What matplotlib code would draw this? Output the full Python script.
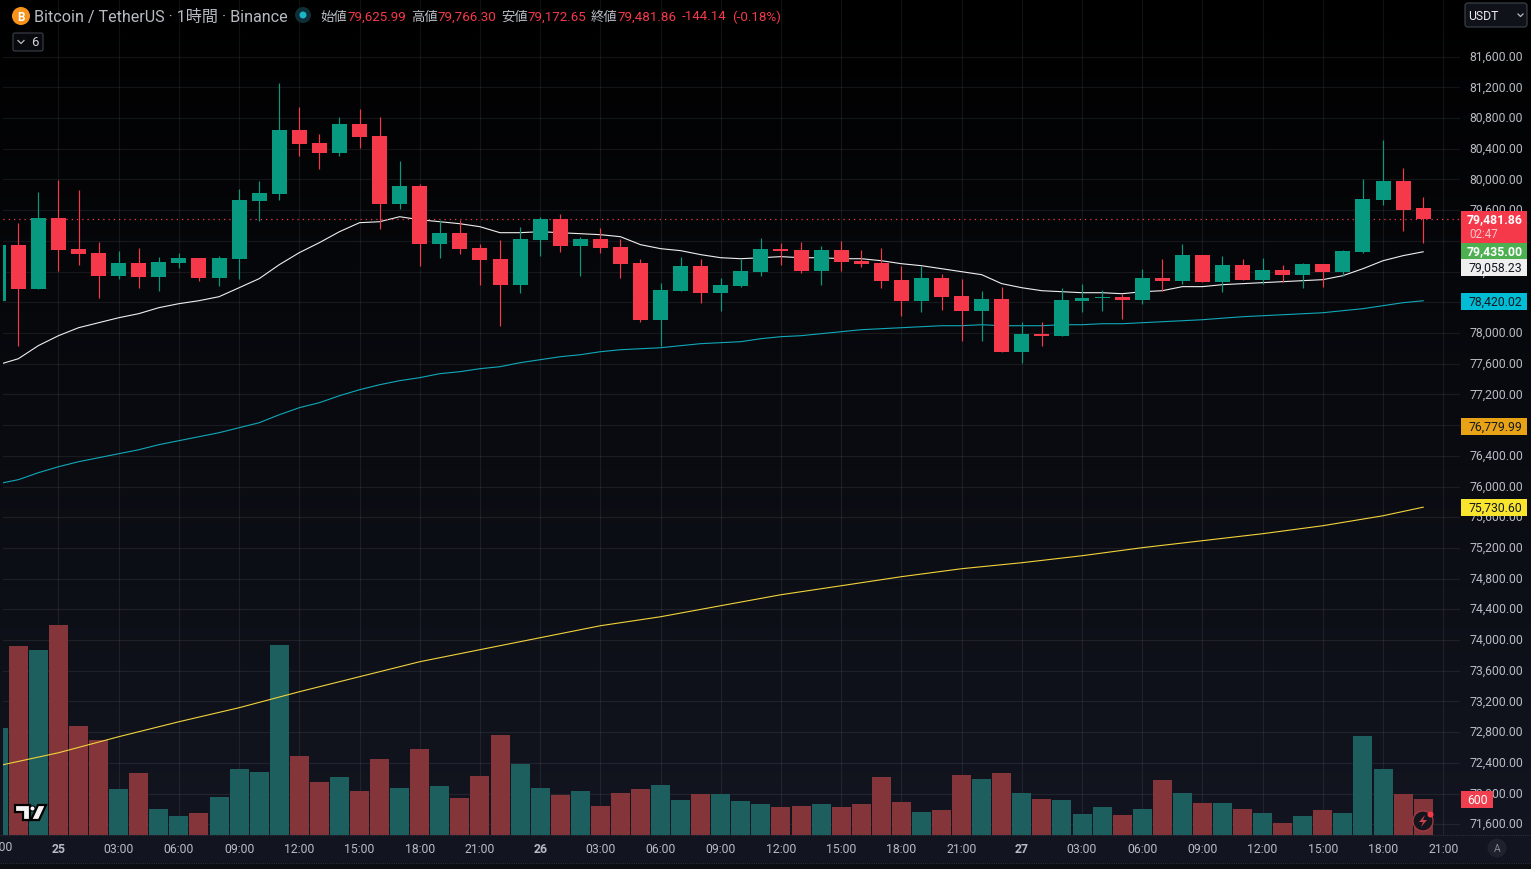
import numpy as np
import matplotlib
matplotlib.use('Agg')
import matplotlib.pyplot as plt
from matplotlib.patches import Circle, FancyBboxPatch, Polygon, Rectangle
from matplotlib.transforms import ScaledTranslation

plt.rcParams['font.family'] = ['Roboto', 'Noto Sans CJK JP', 'DejaVu Sans']

W, H = 1531, 870

# hours relative to 25th 00:00
hours = list(range(-3, 69))

opens = [78421, 79151, 78577, 79502, 79099, 79047, 78747, 78916, 78734, 78916, 78981, 78721,
         78968, 79724, 79815, 80649, 80480, 80349, 80727, 80571, 79685, 79920, 79164, 79307,
         79112, 78968, 78630, 79216, 79489, 79138, 79229, 79125, 78916, 78174, 78551, 78877,
         78525, 78617, 78799, 79099, 79086, 78812, 79086, 78942, 78916, 78695, 78421, 78721,
         78486, 78291, 78447, 77758, 77992, 77966, 78421, 78460, 78473, 78434, 78721, 78682,
         79021, 78669, 78890, 78695, 78825, 78760, 78903, 78799, 79060, 79737, 79985, 79625.99]
highs = [79151, 79437, 79841, 79998, 79867, 79190, 79073, 79112, 78995, 79047, 78981, 79008,
         79881, 79985, 81262, 80949, 80597, 80818, 80923, 80818, 80245, 79946, 79476, 79476,
         79164, 79216, 79385, 79515, 79555, 79255, 79372, 79229, 78968, 78656, 78995, 78968,
         78721, 78968, 79242, 79177, 79190, 79138, 79203, 79086, 79112, 78877, 78877, 78773,
         78708, 78551, 78604, 78148, 78148, 78590, 78643, 78564, 78512, 78838, 78968, 79164,
         79021, 79008, 78968, 78981, 78890, 78916, 78903, 79086, 80011, 80519, 80154, 79766.30]
lows = [78421, 77836, 78577, 78812, 78890, 78460, 78708, 78590, 78551, 78851, 78682, 78617,
        78708, 79463, 79737, 80310, 80141, 80310, 80415, 79359, 79620, 78877, 78981, 79034,
        78630, 78096, 78525, 79008, 79060, 78747, 79047, 78721, 78148, 77836, 78551, 78395,
        78291, 78604, 78747, 78890, 78786, 78630, 78812, 78864, 78590, 78226, 78278, 78304,
        77901, 77901, 77758, 77614, 77836, 77966, 78278, 78291, 78187, 78382, 78551, 78643,
        78669, 78538, 78695, 78643, 78669, 78590, 78604, 78747, 79047, 79672, 79333, 79172.65]
closes = [79151, 78577, 79502, 79086, 79034, 78747, 78916, 78734, 78929, 78981, 78721, 78981,
          79737, 79828, 80649, 80467, 80349, 80727, 80558, 79685, 79920, 79164, 79307, 79099,
          78955, 78630, 79229, 79489, 79138, 79229, 79112, 78903, 78174, 78564, 78877, 78525,
          78630, 78812, 79099, 79073, 78812, 79086, 78929, 78903, 78682, 78421, 78721, 78473,
          78291, 78447, 77758, 77992, 77966, 78434, 78460, 78473, 78434, 78721, 78682, 79021,
          78669, 78890, 78695, 78825, 78760, 78903, 78799, 79073, 79750, 79985, 79607, 79481.86]

volumes = [1800, 3186, 3118, 3540, 1834, 1597, 769, 1039, 431, 313, 363, 634,
           1107, 1056, 3203, 1327, 887, 972, 735, 1276, 786, 1445, 820, 617,
           989, 1682, 1191, 786, 668, 735, 482, 701, 769, 837, 583, 684,
           684, 566, 515, 465, 482, 515, 465, 515, 972, 549, 380, 414,
           1006, 938, 1039, 701, 600, 583, 346, 465, 330, 431, 921, 701,
           532, 532, 431, 363, 194, 313, 414, 363, 1665, 1107, 684, 600]

ma_white = [77587, 77665, 77836, 77965, 78069, 78134, 78199, 78252, 78330, 78382, 78421, 78473,
            78590, 78708, 78890, 79047, 79177, 79320, 79437, 79450, 79515, 79476, 79450, 79424,
            79385, 79307, 79307, 79320, 79307, 79294, 79281, 79255, 79151, 79099, 79073, 79021,
            78981, 78968, 78981, 78995, 78981, 78981, 78968, 78968, 78942, 78903, 78877, 78838,
            78799, 78760, 78643, 78590, 78551, 78538, 78525, 78525, 78512, 78538, 78551, 78604,
            78604, 78630, 78643, 78656, 78669, 78682, 78695, 78747, 78838, 78942, 79008, 79058.23]

ma_teal = [76036, 76089, 76180, 76258, 76323, 76375, 76427, 76479, 76545, 76597, 76649, 76701,
           76766, 76831, 76935, 77027, 77092, 77183, 77261, 77326, 77379, 77418, 77470, 77496,
           77535, 77561, 77613, 77652, 77691, 77717, 77756, 77782, 77795, 77808, 77835, 77861,
           77874, 77887, 77926, 77952, 77965, 77991, 78017, 78043, 78056, 78069, 78082, 78095,
           78095, 78108, 78095, 78095, 78095, 78108, 78108, 78121, 78121, 78134, 78147, 78160,
           78173, 78193, 78212, 78225, 78238, 78251, 78264, 78291, 78317, 78356, 78395, 78420.02]

ma_yellow_hours = [-3, 0, 3, 6, 9, 12, 15, 18, 21, 24, 27, 30, 33, 36, 39, 42, 45, 48, 51, 54, 57, 60, 63, 66, 68]
ma_yellow = [72362, 72531, 72740, 72935, 73118, 73326, 73522, 73717, 73874, 74030, 74186, 74303, 74447,
             74590, 74707, 74825, 74929, 75007, 75098, 75203, 75294, 75385, 75489, 75619, 75730.60]

time_ticks = list(range(0, 70, 3))
time_labels = ['25', '03:00', '06:00', '09:00', '12:00', '15:00', '18:00', '21:00',
               '26', '03:00', '06:00', '09:00', '12:00', '15:00', '18:00', '21:00',
               '27', '03:00', '06:00', '09:00', '12:00', '15:00', '18:00', '21:00']
price_ticks = list(range(71600, 82000, 400))

# colours
UP = '#089981'
DOWN = '#f5394a'
UP_VOL = '#1c5f5e'
DOWN_VOL = '#843539'
TXT = '#b8bbc4'

fig = plt.figure(figsize=(W / 100, H / 100), dpi=100, facecolor='#000000')

# background gradient, black at the top going to navy at the bottom
bg = fig.add_axes([0, 0, 1, 1], zorder=0)
top = np.array([0, 0, 0])
bottom = np.array([19, 22, 33])
t = np.linspace(0, 1, 864)[:, None, None]
grad = (top + (bottom - top) * t) / 255
bg.imshow(grad, extent=[0, W, 864, 0], aspect='auto')
bg.add_patch(Rectangle((0, 864), W, 6, color='#0c0d11'))
bg.set_xlim(0, W)
bg.set_ylim(H, 0)
bg.axis('off')

# main chart, scales fitted to the pixel positions of the axis labels
ax = fig.add_axes([3 / W, 1 - 836 / H, 1457 / W, 836 / H], zorder=1)
ax.patch.set_alpha(0)
ax.set_xlim(-2.765, 69.835)
ax.set_ylim(71459.5, 82351.7)
for s in ax.spines.values():
    s.set_visible(False)
ax.grid(True, color='#ffffff', alpha=0.07, lw=0.9, zorder=0)
ax.set_axisbelow(True)

ax.yaxis.tick_right()
ax.set_yticks(price_ticks)
ax.set_yticklabels([f'{p:,.2f}' for p in price_ticks], color=TXT, fontsize=8.8)
ax.tick_params(axis='y', length=0, pad=6.5)
lift = ScaledTranslation(0, 1.5 / 72, fig.dpi_scale_trans)
for lab in ax.get_yticklabels():
    lab.set_transform(lab.get_transform() + lift)
ax.set_xticks(time_ticks)
ax.set_xticklabels(time_labels, color=TXT, fontsize=8.8)
ax.tick_params(axis='x', length=0, pad=5)
for lab, txt in zip(ax.get_xticklabels(), time_labels):
    if len(txt) == 2:
        lab.set_fontweight('bold')

# volume sits on the price scale, scaled down to the lower part of the pane
vol_base = 71463
vol_scale = 0.771
up = [c >= o for o, c in zip(opens, closes)]
vol_colors = [UP_VOL if u else DOWN_VOL for u in up]
ax.bar(hours, np.array(volumes) * vol_scale, bottom=vol_base, width=0.947, color=vol_colors, zorder=1)

ax.plot(hours, ma_white, color='#eeeeee', lw=0.8, zorder=2)
ax.plot(hours, ma_teal, color='#10a8b8', lw=0.8, zorder=2)
ax.plot(ma_yellow_hours, ma_yellow, color='#f2d33b', lw=0.8, zorder=2)

# candles
colors = [UP if u else DOWN for u in up]
ax.vlines(hours, lows, highs, colors=colors, lw=0.85, zorder=3)
body_low = [min(o, c) for o, c in zip(opens, closes)]
body_h = [abs(c - o) for o, c in zip(opens, closes)]
ax.bar(hours, body_h, bottom=body_low, width=0.747, color=colors, zorder=3)

ax.axhline(closes[-1], color=DOWN, lw=0.9, ls=(0, (1, 3.2)), zorder=2.5)

# overlay in pixel coordinates for the labels and interface bits
ov = fig.add_axes([0, 0, 1, 1], zorder=5)
ov.set_xlim(0, W)
ov.set_ylim(H, 0)
ov.axis('off')
ov.patch.set_alpha(0)

ov.text(-2, 848, '21:00', color=TXT, fontsize=8.8, ha='center', va='center')
ov.axhline(835.7, color='#2c2f3a', lw=0.8, ls=(0, (1, 1)))
ov.axhline(863.5, color='#2c2f3a', lw=0.8, ls=(0, (1, 1)))

# price labels on the right
price_labels = [
    (244, 259.5, '79,435.00', '#4caf50', 'white'),
    (260, 277, '79,058.23', '#efefef', '#131722'),
    (294, 311, '78,420.02', '#00bcd4', '#131722'),
    (419, 436, '76,779.99', '#e8a216', '#131722'),
    (500, 517, '75,730.60', '#f9e52e', '#131722'),
]
ov.add_patch(Rectangle((1461, 212), 66, 32, color=DOWN, lw=0))
ov.text(1495, 220, '79,481.86', color='white', fontsize=8.8, ha='center', va='center', fontweight='bold')
ov.text(1469, 234, '02:47', color='#f8c6cb', fontsize=8.4, ha='left', va='center')
for y0, y1, s, c, tc in price_labels:
    ov.add_patch(Rectangle((1461, y0), 66, y1 - y0, color=c, lw=0))
    ov.text(1495, (y0 + y1) / 2, s, color=tc, fontsize=8.8, ha='center', va='center',
            fontweight='bold' if tc == 'white' else 'normal')
ov.add_patch(Rectangle((1461, 792), 32, 17, color='#f0404f', lw=0))
ov.text(1478, 801, '600', color='white', fontsize=8.8, ha='center', va='center')

# header
ov.add_patch(Circle((21, 17), 9, color='#f7931a', lw=0))
ov.text(21, 17.5, 'B', color='white', fontsize=8.5, fontweight='bold', ha='center', va='center')
ov.text(34, 17, 'Bitcoin / TetherUS · 1時間 · Binance', color=TXT, fontsize=11.6, va='center')
ov.add_patch(Circle((303, 16), 8, color='#0e2f38', lw=0))
ov.add_patch(Circle((303, 16), 3.5, color='#19b6c6', lw=0))
header = [(320, '始値', TXT), (348, '79,625.99', DOWN), (411, '高値', TXT), (438, '79,766.30', DOWN),
          (501, '安値', TXT), (528, '79,172.65', DOWN), (591, '終値', TXT), (618, '79,481.86', DOWN),
          (682, '-144.14', DOWN), (732, '(-0.18%)', DOWN)]
for x, s, c in header:
    ov.text(x, 17, s, color=c, fontsize=9.6, va='center')

# collapsed indicators button
ov.add_patch(FancyBboxPatch((13, 34), 30, 18, boxstyle='round,pad=0,rounding_size=2', fc='#08090c',
                            ec='#363a45', lw=0.9))
ov.plot([18, 21, 24], [41.5, 44.5, 41.5], color=TXT, lw=0.9)
ov.text(35, 43, '6', color='#d1d4dc', fontsize=9.5, ha='center', va='center')

# currency button
ov.add_patch(FancyBboxPatch((1465, 4), 62, 24, boxstyle='round,pad=0,rounding_size=3', fc='#0f1218',
                            ec='#3a3e49', lw=0.9))
ov.text(1468, 16, 'USDT', color='#e8eaf0', fontsize=8.8, va='center')
ov.plot([1518, 1520.5, 1523], [15, 17.5, 15], color=TXT, lw=0.9)

# tradingview logo
logo = [Polygon([(15, 806), (30, 806), (30, 821), (23, 821), (23, 813), (15, 813)], closed=True),
        Polygon([(38, 806), (46, 806), (39, 821), (31, 821)], closed=True)]
for p in logo:
    p.set(fc='#f4f4f4', ec='black', lw=1.6, joinstyle='miter')
    ov.add_patch(p)
ov.add_patch(Circle((32.5, 809.5), 2.6, fc='#f4f4f4', ec='black', lw=0.8))

# alert button in the corner of the pane
ov.add_patch(Circle((1423, 822), 10, fc='#14151d', ec='#a83a45', lw=0.9))
ov.add_patch(Polygon([(1425, 816), (1419, 823), (1423, 823), (1421, 828), (1427, 821), (1423, 821)],
                     closed=True, fc='#c8424e', lw=0))
ov.add_patch(Circle((1430.5, 815.5), 3, color='#f5394a', lw=0))

# auto scale button
ov.add_patch(Circle((1497, 849), 9.5, color='#1f222c', lw=0))
ov.text(1497, 849.5, 'A', color='#868993', fontsize=7.5, ha='center', va='center')

fig.savefig('out.png', dpi=100, facecolor=fig.get_facecolor())
